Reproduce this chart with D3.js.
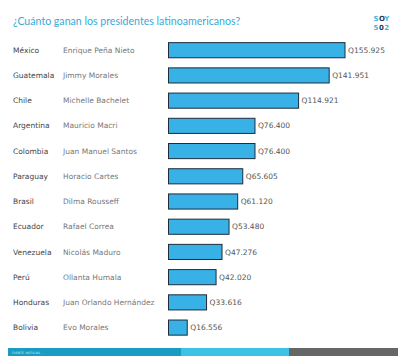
<!DOCTYPE html>
<html><head><meta charset="utf-8">
<script src="https://cdn.jsdelivr.net/npm/d3@7"></script>
<style>body{margin:0;background:#fff}svg{display:block}</style>
</head><body>
<svg id="c" width="400" height="359"></svg>
<script>
const countries = ["México","Guatemala","Chile","Argentina","Colombia","Paraguay","Brasil","Ecuador","Venezuela","Perú","Honduras","Bolivia"];
const presidents = ["Enrique Peña Nieto","Jimmy Morales","Michelle Bachelet","Mauricio Macri","Juan Manuel Santos","Horacio Cartes","Dilma Rousseff","Rafael Correa","Nicolás Maduro","Ollanta Humala","Juan Orlando Hernández","Evo Morales"];
const salaries = [155925,141951,114921,76400,76400,65605,61120,53480,47276,42020,33616,16556];
const salaryLabels = ["Q155.925","Q141.951","Q114.921","Q76.400","Q76.400","Q65.605","Q61.120","Q53.480","Q47.276","Q42.020","Q33.616","Q16.556"];
const title = "¿Cuánto ganan los presidentes latinoamericanos?";
const source = "FUENTE: NOTICIAS ...";

const svg = d3.select("#c");
const x = d3.scaleLinear().domain([0,155925]).range([168.5,345]);
const y = d3.scaleBand().domain(countries).range([37.6,340.2]).paddingInner(0.4).paddingOuter(0.2);

svg.append("text").attr("x",13).attr("y",25).attr("fill","#3aa9d6")
  .attr("font-family","Lato").attr("font-size",10.6).text(title);

// logo
const logo = svg.append("g").attr("font-family","DejaVu Sans").attr("font-weight","bold").attr("font-size",7);
[["S","#3fb2e0"],["O","#1d3a5c"],["Y","#3fb2e0"]].forEach((d,i)=>logo.append("text").attr("x",373.5+i*5.4).attr("y",21).attr("fill",d[1]).text(d[0]));
[["5","#3fb2e0"],["0","#1d3a5c"],["2","#3fb2e0"]].forEach((d,i)=>logo.append("text").attr("x",373.5+i*5.4).attr("y",29.5).attr("fill",d[1]).text(d[0]));

const rows = svg.append("g").selectAll("g").data(countries).join("g");
rows.append("text").attr("x",13).attr("y",d=>y(d)+y.bandwidth()/2).attr("dy","0.35em")
  .attr("font-family","DejaVu Sans").attr("font-size",7.5).attr("fill","#444").text(d=>d);
rows.append("text").attr("x",63).attr("y",d=>y(d)+y.bandwidth()/2).attr("dy","0.35em")
  .attr("font-family","DejaVu Sans").attr("font-size",7.5).attr("fill","#777").text((d,i)=>presidents[i]);
rows.append("rect").attr("x",x(0)).attr("y",d=>y(d)).attr("height",y.bandwidth())
  .attr("width",(d,i)=>x(salaries[i])-x(0)).attr("fill","#38b1e6").attr("stroke","#1f2c3c").attr("stroke-width",1);
rows.append("text").attr("x",(d,i)=>x(salaries[i])+3).attr("y",d=>y(d)+y.bandwidth()/2).attr("dy","0.35em")
  .attr("font-family","DejaVu Sans").attr("font-size",7.5).attr("fill","#555").text((d,i)=>salaryLabels[i]);

// footer
svg.append("rect").attr("x",8).attr("y",348).attr("width",173).attr("height",8).attr("fill","#1a9cc2");
svg.append("rect").attr("x",181).attr("y",348).attr("width",108).attr("height",8).attr("fill","#3cc2e4");
svg.append("rect").attr("x",289).attr("y",348).attr("width",109).attr("height",8).attr("fill","#666");
svg.append("text").attr("x",12).attr("y",353.5).attr("fill","#cfeaf4").attr("font-family","DejaVu Sans").attr("font-size",3).text(source);
</script>
</body></html>
